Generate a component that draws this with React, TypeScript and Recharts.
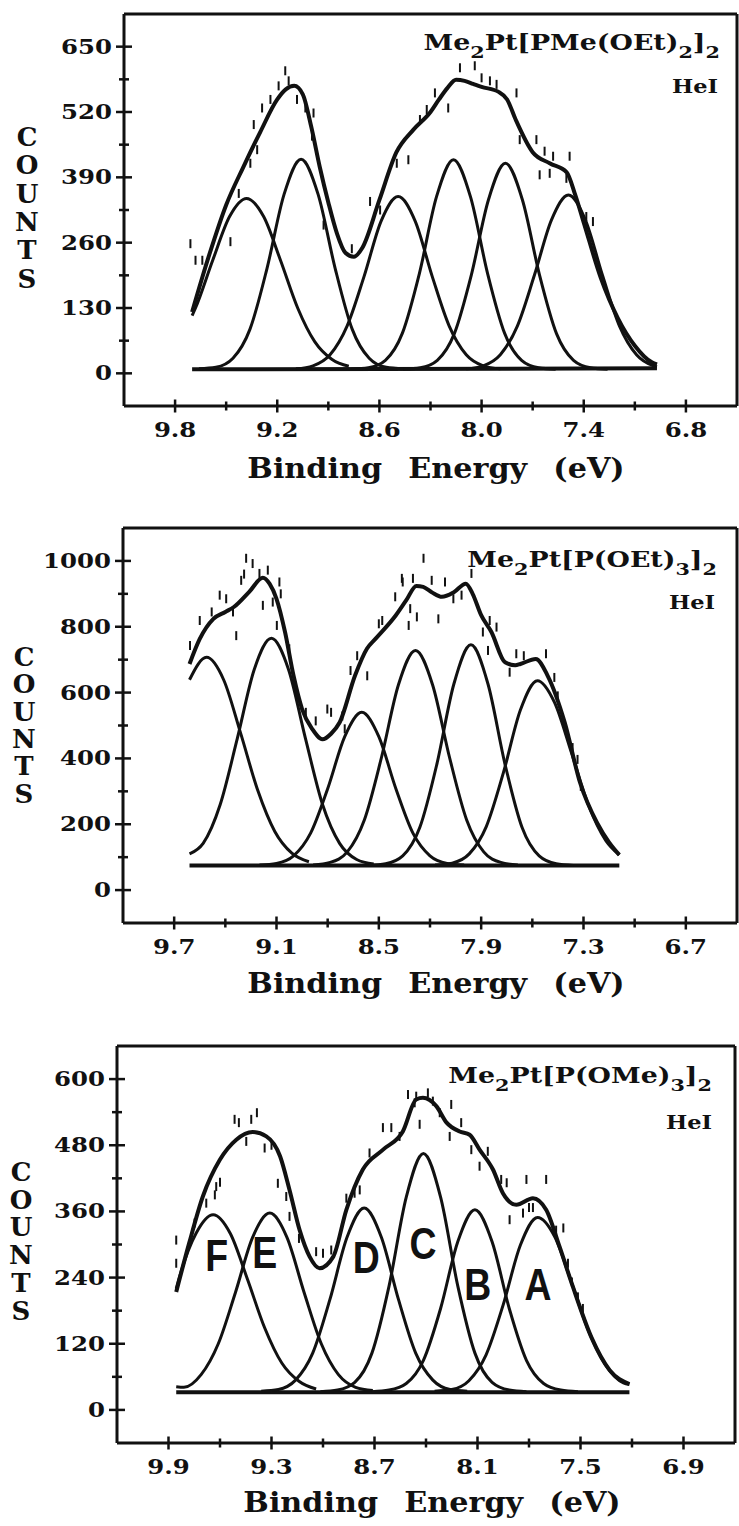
import React from 'react';
import { ComposedChart, Line, Scatter, XAxis, YAxis, ReferenceLine } from 'recharts';

const INK = '#111';
const SERIF = "'DejaVu Serif', serif";
const SANS = "'Liberation Sans', Arial, sans-serif";

// offsets (eV) around each band centre where the band heights were read
const OFFSETS = [-0.6, -0.5, -0.4, -0.3, -0.2, -0.1, 0, 0.1, 0.2, 0.3, 0.4, 0.5, 0.6];

// ---------- panel 1 : Me2Pt[PMe(OEt)2]2 ----------
const p1Range = [9.7, 6.97];
const p1Base = [8, 10];
const p1Centers = [9.38, 9.06, 8.49, 8.165, 7.86, 7.49];
const p1Bands = [
  [14, 28, 63, 130, 224, 312, 348, 312, 224, 130, 63, 28, 14],
  [9, 12, 30, 88, 209, 356, 426, 356, 209, 88, 30, 12, 9],
  [9, 15, 37, 94, 193, 303, 352, 303, 193, 94, 37, 15, 9],
  [8, 11, 26, 80, 199, 351, 425, 351, 199, 80, 26, 11, 8],
  [8, 11, 26, 79, 196, 345, 418, 345, 196, 79, 26, 11, 8],
  [9, 15, 37, 94, 195, 305, 355, 305, 195, 94, 37, 15, 9],
];
const p1LeftEdge = [115, 9, 9, 8, 8, 9];
const p1RightEdge = [8, 8, 8, 8, 8, 13];
const p1FitE = [9.7, 9.6, 9.5, 9.4, 9.3, 9.2, 9.15, 9.1, 9.05, 9.0, 8.95, 8.9, 8.85, 8.8, 8.75, 8.7, 8.6, 8.5, 8.4, 8.3, 8.25, 8.2, 8.15, 8.1, 8.05, 8.0, 7.9, 7.85, 7.8, 7.7, 7.6, 7.5, 7.45, 7.4, 7.3, 7.2, 7.1, 7.0, 6.97];
const p1FitV = [122, 235, 335, 410, 480, 545, 565, 572, 555, 490, 410, 340, 279, 240, 232, 250, 345, 440, 485, 520, 545, 568, 584, 582, 576, 570, 560, 545, 505, 440, 418, 400, 355, 300, 190, 110, 55, 22, 18];
const p1DotE = [9.71, 9.68, 9.64, 9.475, 9.426, 9.358, 9.318, 9.338, 9.289, 9.24, 9.192, 9.153, 9.133, 9.084, 9.035, 8.987, 8.996, 8.928, 8.762, 8.655, 8.596, 8.498, 8.43, 8.362, 8.322, 8.274, 8.196, 8.127, 8.04, 8.0, 7.951, 7.912, 7.795, 7.776, 7.678, 7.63, 7.58, 7.483, 7.659, 7.6, 7.502, 7.385, 7.346];
const p1DotV = [258, 225, 225, 262, 358, 418, 445, 495, 528, 545, 572, 602, 582, 545, 528, 518, 472, 295, 248, 342, 325, 418, 425, 505, 525, 558, 528, 608, 612, 588, 582, 575, 558, 465, 465, 442, 432, 432, 395, 398, 388, 312, 302];
const p1XTicks = [9.8, 9.5, 9.2, 8.9, 8.6, 8.3, 8.0, 7.7, 7.4, 7.1, 6.8];
const p1XLabels = [9.8, 9.2, 8.6, 8.0, 7.4, 6.8];
const p1YTicks = [0, 65, 130, 195, 260, 325, 390, 455, 520, 585, 650];
const p1YLabels = [0, 130, 260, 390, 520, 650];

// ---------- panel 2 : Me2Pt[P(OEt)3]2 ----------
const p2Range = [9.61, 7.09];
const p2Base = [75, 75];
const p2Centers = [9.51, 9.13, 8.6, 8.285, 7.96, 7.57];
const p2Bands = [
  [86, 112, 178, 303, 476, 639, 707, 639, 476, 303, 178, 112, 86],
  [79, 93, 142, 260, 460, 671, 765, 671, 460, 260, 142, 93, 79],
  [76, 81, 104, 173, 308, 466, 540, 466, 308, 173, 104, 81, 76],
  [76, 84, 116, 213, 402, 624, 728, 624, 402, 213, 116, 84, 76],
  [75, 80, 104, 190, 382, 626, 745, 626, 382, 190, 104, 80, 75],
  [76, 100, 151, 257, 416, 570, 636, 547, 356, 193, 110, 82, 76],
];
const p2LeftEdge = [646, 110, 76, 75, 75, 76];
const p2RightEdge = [75, 75, 75, 75, 75, 107];
const p2FitE = [9.61, 9.55, 9.47, 9.4, 9.35, 9.26, 9.18, 9.14, 9.1, 9.05, 9.0, 8.95, 8.89, 8.83, 8.78, 8.73, 8.64, 8.57, 8.52, 8.4, 8.34, 8.28, 8.24, 8.19, 8.13, 8.06, 7.99, 7.95, 7.9, 7.84, 7.76, 7.7, 7.67, 7.58, 7.51, 7.41, 7.32, 7.22, 7.15, 7.09];
const p2FitV = [687, 763, 824, 845, 860, 906, 949, 930, 885, 784, 651, 550, 489, 458, 475, 509, 651, 733, 763, 835, 880, 924, 921, 905, 891, 905, 931, 900, 835, 784, 692, 683, 687, 702, 651, 509, 326, 204, 145, 107];
const p2DotE = [9.607, 9.55, 9.48, 9.433, 9.395, 9.355, 9.336, 9.307, 9.278, 9.24, 9.29, 9.2, 9.151, 9.18, 9.122, 9.083, 9.075, 9.098, 9.025, 8.928, 8.87, 8.802, 8.78, 8.714, 8.7, 8.666, 8.627, 8.568, 8.5, 8.48, 8.404, 8.365, 8.36, 8.316, 8.325, 8.3, 8.277, 8.238, 8.19, 8.151, 8.112, 8.063, 8.015, 7.957, 7.89, 7.85, 7.81, 7.86, 7.733, 7.694, 7.65, 7.52, 7.471, 7.451, 7.364, 7.335, 7.316];
const p2DotV = [743, 819, 845, 896, 885, 845, 773, 941, 1008, 992, 960, 962, 972, 865, 875, 936, 900, 804, 733, 540, 514, 550, 540, 529, 490, 667, 712, 651, 809, 819, 891, 947, 936, 855, 804, 947, 830, 1008, 941, 824, 936, 885, 896, 962, 784, 819, 799, 728, 662, 718, 712, 718, 646, 590, 433, 397, 315];
const p2XTicks = [9.7, 9.4, 9.1, 8.8, 8.5, 8.2, 7.9, 7.6, 7.3, 7.0, 6.7];
const p2XLabels = [9.7, 9.1, 8.5, 7.9, 7.3, 6.7];
const p2YTicks = [0, 100, 200, 300, 400, 500, 600, 700, 800, 900, 1000];
const p2YLabels = [0, 200, 400, 600, 800, 1000];

// ---------- panel 3 : Me2Pt[P(OMe)3]2 ----------
const p3Range = [9.855, 7.215];
const p3Base = [32, 32];
const p3Centers = [9.64, 9.31, 8.76, 8.415, 8.115, 7.75];
const p3Bands = [
  [38, 52, 85, 149, 237, 320, 354, 320, 237, 149, 85, 52, 38],
  [35, 41, 64, 120, 213, 313, 357, 313, 213, 120, 64, 41, 35],
  [34, 37, 54, 103, 200, 313, 366, 313, 200, 103, 54, 37, 34],
  [33, 36, 50, 103, 225, 386, 465, 386, 225, 103, 50, 36, 33],
  [33, 36, 48, 90, 184, 305, 363, 305, 184, 90, 48, 36, 33],
  [36, 49, 80, 141, 229, 314, 349, 299, 191, 100, 53, 37, 34],
];
const p3LeftEdge = [220, 42, 33, 33, 33, 33];
const p3RightEdge = [33, 33, 33, 33, 33, 46];
const p3FitE = [9.855, 9.78, 9.7, 9.6, 9.505, 9.41, 9.33, 9.25, 9.195, 9.136, 9.078, 9.02, 8.94, 8.864, 8.768, 8.65, 8.535, 8.457, 8.418, 8.34, 8.28, 8.204, 8.146, 8.088, 8.01, 7.952, 7.874, 7.777, 7.7, 7.622, 7.544, 7.437, 7.33, 7.215];
const p3FitV = [214, 302, 387, 454, 490, 504, 496, 460, 399, 326, 278, 257, 278, 363, 436, 472, 505, 563, 566, 551, 521, 505, 499, 472, 436, 393, 372, 384, 363, 296, 223, 132, 72, 47];
const p3DotE = [9.855, 9.855, 9.748, 9.68, 9.622, 9.6, 9.63, 9.515, 9.49, 9.447, 9.418, 9.385, 9.34, 9.3, 9.263, 9.214, 9.195, 9.14, 9.04, 9.0, 8.952, 8.864, 8.816, 8.786, 8.729, 8.651, 8.602, 8.554, 8.505, 8.466, 8.457, 8.437, 8.389, 8.36, 8.32, 8.253, 8.262, 8.195, 8.136, 8.088, 8.04, 7.962, 7.93, 7.913, 7.835, 7.815, 7.8, 7.777, 7.7, 7.642, 7.6, 7.573, 7.55, 7.515, 7.486];
const p3DotV = [308, 266, 339, 375, 405, 413, 390, 527, 521, 487, 527, 539, 475, 480, 411, 387, 351, 311, 287, 284, 290, 384, 393, 399, 466, 512, 512, 496, 572, 557, 569, 518, 575, 560, 539, 554, 496, 521, 472, 442, 469, 418, 412, 345, 357, 418, 367, 367, 418, 326, 330, 266, 232, 205, 184];
const p3XTicks = [9.9, 9.6, 9.3, 9.0, 8.7, 8.4, 8.1, 7.8, 7.5, 7.2, 6.9];
const p3XLabels = [9.9, 9.3, 8.7, 8.1, 7.5, 6.9];
const p3YTicks = [0, 60, 120, 180, 240, 300, 360, 420, 480, 540, 600];
const p3YLabels = [0, 120, 240, 360, 480, 600];
const p3Letters = ['F', 'E', 'D', 'C', 'B', 'A'];
const p3LetterE = [9.62, 9.34, 8.748, 8.418, 8.098, 7.748];
const p3LetterV = [281, 287, 278, 302, 229, 229];

function bandRows(center: number, vals: number[], start: number, end: number, leftV: number, rightV: number) {
  const rows: { e: number; v: number }[] = [];
  let cutLeft = false;
  let cutRight = false;
  OFFSETS.forEach((o, i) => {
    const e = +(center + o).toFixed(3);
    if (e > start + 1e-6) { cutLeft = true; return; }
    if (e < end - 1e-6) { cutRight = true; return; }
    rows.push({ e, v: vals[i] });
  });
  rows.sort((a, b) => b.e - a.e);
  if (cutLeft && Math.abs(rows[0].e - start) > 0.005) rows.unshift({ e: start, v: leftV });
  if (cutRight && Math.abs(rows[rows.length - 1].e - end) > 0.005) rows.push({ e: end, v: rightV });
  return rows;
}

const zip = (es: number[], vs: number[]) => es.map((e, i) => ({ e, v: vs[i] }));

const isLabel = (labels: number[], v: number) => labels.some((l) => Math.abs(l - v) < 1e-6);

function XTick(props: any) {
  const { x, y, payload, labels } = props;
  const major = isLabel(labels, payload.value);
  const h = major ? 6.5 : 4.5;
  return (
    <g>
      <line x1={x} x2={x} y1={y - h} y2={y + h} stroke={INK} strokeWidth={2.5} />
      {major && (
        <text transform={`translate(${x},${y + 31}) scale(1.22,1)`} textAnchor="middle" fontFamily={SERIF} fontWeight="bold" fontSize={20} fill={INK}>
          {payload.value.toFixed(1)}
        </text>
      )}
    </g>
  );
}

function YTick(props: any) {
  const { x, y, payload, labels } = props;
  const major = isLabel(labels, payload.value);
  const w = major ? 8 : 5;
  return (
    <g>
      <line x1={x - w} x2={x + w} y1={y} y2={y} stroke={INK} strokeWidth={2.5} />
      {major && (
        <text transform={`translate(${x - 12},${y + 7}) scale(1.22,1)`} textAnchor="end" fontFamily={SERIF} fontWeight="bold" fontSize={20} fill={INK}>
          {String(payload.value)}
        </text>
      )}
    </g>
  );
}

function Dash(props: any) {
  const { cx, cy } = props;
  if (cx == null || cy == null) return null;
  return <line x1={cx} x2={cx} y1={cy - 4.5} y2={cy + 4.5} stroke={INK} strokeWidth={2} />;
}

function Letter(props: any) {
  const { cx, cy, payload } = props;
  if (cx == null || cy == null) return null;
  return (
    <text transform={`translate(${cx},${cy + 16}) scale(0.85,1)`} textAnchor="middle" fontFamily={SANS} fontWeight="bold" fontSize={44} fill={INK}>
      {payload.t}
    </text>
  );
}

type PanelProps = {
  top: number;
  height: number;
  plotTop: number;
  plotBottom: number;
  plotLeft: number;
  plotRight: number;
  xDomain: [number, number];
  yDomain: [number, number];
  xTicks: number[];
  xLabels: number[];
  yTicks: number[];
  yLabels: number[];
  range: number[];
  base: number[];
  centers: number[];
  bands: number[][];
  leftEdge: number[];
  rightEdge: number[];
  fitE: number[];
  fitV: number[];
  dotE: number[];
  dotV: number[];
  letters?: { e: number; v: number; t: string }[];
};

function Panel(p: PanelProps) {
  const W = 739;
  const baseRows = [{ e: p.range[0], v: p.base[0] }, { e: p.range[1], v: p.base[1] }];
  const bands = p.centers.map((c, i) => bandRows(c, p.bands[i], p.range[0], p.range[1], p.leftEdge[i], p.rightEdge[i]));
  const fit = zip(p.fitE, p.fitV);
  const dots = zip(p.dotE, p.dotV);
  return (
    <div style={{ position: 'absolute', left: 0, top: p.top }}>
      <ComposedChart
        width={W}
        height={p.height}
        margin={{ top: p.plotTop, right: W - p.plotRight, bottom: 0, left: 0 }}
      >
        <XAxis
          type="number"
          dataKey="e"
          domain={p.xDomain}
          reversed
          allowDataOverflow
          ticks={p.xTicks}
          interval={0}
          height={p.height - p.plotBottom}
          tickSize={0}
          tickMargin={0}
          tickLine={false}
          axisLine={{ stroke: INK, strokeWidth: 3 }}
          tick={(t: any) => <XTick {...t} labels={p.xLabels} />}
        />
        <YAxis
          type="number"
          domain={p.yDomain}
          allowDataOverflow
          ticks={p.yTicks}
          interval={0}
          width={p.plotLeft}
          tickSize={0}
          tickMargin={0}
          tickLine={false}
          axisLine={{ stroke: INK, strokeWidth: 3 }}
          tick={(t: any) => <YTick {...t} labels={p.yLabels} />}
        />
        <ReferenceLine y={p.yDomain[1]} stroke={INK} strokeWidth={3} ifOverflow="visible" />
        <ReferenceLine x={p.xDomain[0]} stroke={INK} strokeWidth={3} ifOverflow="visible" />
        <Line data={baseRows} dataKey="v" type="linear" stroke={INK} strokeWidth={4} dot={false} activeDot={false} isAnimationActive={false} />
        {bands.map((rows, i) => (
          <Line key={i} data={rows} dataKey="v" type="monotone" stroke={INK} strokeWidth={3} dot={false} activeDot={false} isAnimationActive={false} />
        ))}
        <Line data={fit} dataKey="v" type="monotone" stroke={INK} strokeWidth={4} dot={false} activeDot={false} isAnimationActive={false} />
        <Scatter data={dots} dataKey="v" shape={(s: any) => <Dash {...s} />} isAnimationActive={false} />
        {p.letters && (
          <Scatter data={p.letters} dataKey="v" shape={(s: any) => <Letter {...s} />} isAnimationActive={false} />
        )}
      </ComposedChart>
    </div>
  );
}

function Formula({ x, y, parts }: { x: number; y: number; parts: [string, boolean][] }) {
  return (
    <text transform={`translate(${x},${y}) scale(1.22,1)`} textAnchor="end" fontFamily={SERIF} fontWeight="bold" fontSize={22} fill={INK}>
      {parts.map(([s, sub], i) => {
        const prevSub = i > 0 && parts[i - 1][1];
        const dy = sub && !prevSub ? 8 : !sub && prevSub ? -8 : 0;
        return (
          <tspan key={i} dy={dy} fontSize={sub ? 17 : 22}>
            {s}
          </tspan>
        );
      })}
    </text>
  );
}

function Counts({ x, y, step }: { x: number; y: number; step: number }) {
  return (
    <g>
      {'COUNTS'.split('').map((c, i) => (
        <text key={i} x={x} y={y + i * step} textAnchor="middle" fontFamily={SERIF} fontWeight="bold" fontSize={26} fill={INK}>
          {c}
        </text>
      ))}
    </g>
  );
}

function EnergyTitle({ x, y }: { x: number; y: number }) {
  return (
    <text transform={`translate(${x},${y}) scale(1.12,1)`} textAnchor="middle" fontFamily={SERIF} fontWeight="bold" fontSize={27} fill={INK}>
      Binding<tspan dx={14}> Energy</tspan><tspan dx={14}> (eV)</tspan>
    </text>
  );
}

function HeI({ x, y }: { x: number; y: number }) {
  return (
    <text transform={`translate(${x},${y}) scale(1.25,1)`} textAnchor="end" fontFamily={SERIF} fontWeight="bold" fontSize={18} fill={INK}>
      HeI
    </text>
  );
}

export default function App() {
  const letters = p3Letters.map((t, i) => ({ e: p3LetterE[i], v: p3LetterV[i], t }));
  return (
    <div style={{ position: 'absolute', left: 0, top: 0, width: 739, height: 1526, background: '#fff', overflow: 'hidden' }}>
      <Panel
        top={0} height={500} plotTop={14} plotBottom={406} plotLeft={124} plotRight={737}
        xDomain={[6.5, 10.1]} yDomain={[-65, 715]}
        xTicks={p1XTicks} xLabels={p1XLabels} yTicks={p1YTicks} yLabels={p1YLabels}
        range={p1Range} base={p1Base} centers={p1Centers} bands={p1Bands}
        leftEdge={p1LeftEdge} rightEdge={p1RightEdge}
        fitE={p1FitE} fitV={p1FitV} dotE={p1DotE} dotV={p1DotV}
      />
      <Panel
        top={500} height={520} plotTop={28} plotBottom={423} plotLeft={123} plotRight={737}
        xDomain={[6.4, 10.0]} yDomain={[-100, 1100]}
        xTicks={p2XTicks} xLabels={p2XLabels} yTicks={p2YTicks} yLabels={p2YLabels}
        range={p2Range} base={p2Base} centers={p2Centers} bands={p2Bands}
        leftEdge={p2LeftEdge} rightEdge={p2RightEdge}
        fitE={p2FitE} fitV={p2FitV} dotE={p2DotE} dotV={p2DotV}
      />
      <Panel
        top={1020} height={506} plotTop={26} plotBottom={423} plotLeft={117} plotRight={735}
        xDomain={[6.6, 10.2]} yDomain={[-60, 660]}
        xTicks={p3XTicks} xLabels={p3XLabels} yTicks={p3YTicks} yLabels={p3YLabels}
        range={p3Range} base={p3Base} centers={p3Centers} bands={p3Bands}
        leftEdge={p3LeftEdge} rightEdge={p3RightEdge}
        fitE={p3FitE} fitV={p3FitV} dotE={p3DotE} dotV={p3DotV}
        letters={letters}
      />
      <svg width={739} height={1526} style={{ position: 'absolute', left: 0, top: 0, pointerEvents: 'none' }}>
        <Formula x={720} y={50} parts={[['Me', false], ['2', true], ['Pt[PMe(OEt)', false], ['2', true], [']', false], ['2', true]]} />
        <HeI x={718} y={93} />
        <Counts x={27} y={146} step={28.3} />
        <EnergyTitle x={436} y={478} />

        <Formula x={717} y={567} parts={[['Me', false], ['2', true], ['Pt[P(OEt)', false], ['3', true], [']', false], ['2', true]]} />
        <HeI x={715} y={609} />
        <Counts x={24} y={666} step={27.3} />
        <EnergyTitle x={436} y={993} />

        <Formula x={712} y={1083} parts={[['Me', false], ['2', true], ['Pt[P(OMe)', false], ['3', true], [']', false], ['2', true]]} />
        <HeI x={712} y={1129} />
        <Counts x={21} y={1181} step={27.7} />
        <EnergyTitle x={432} y={1512} />
      </svg>
    </div>
  );
}
